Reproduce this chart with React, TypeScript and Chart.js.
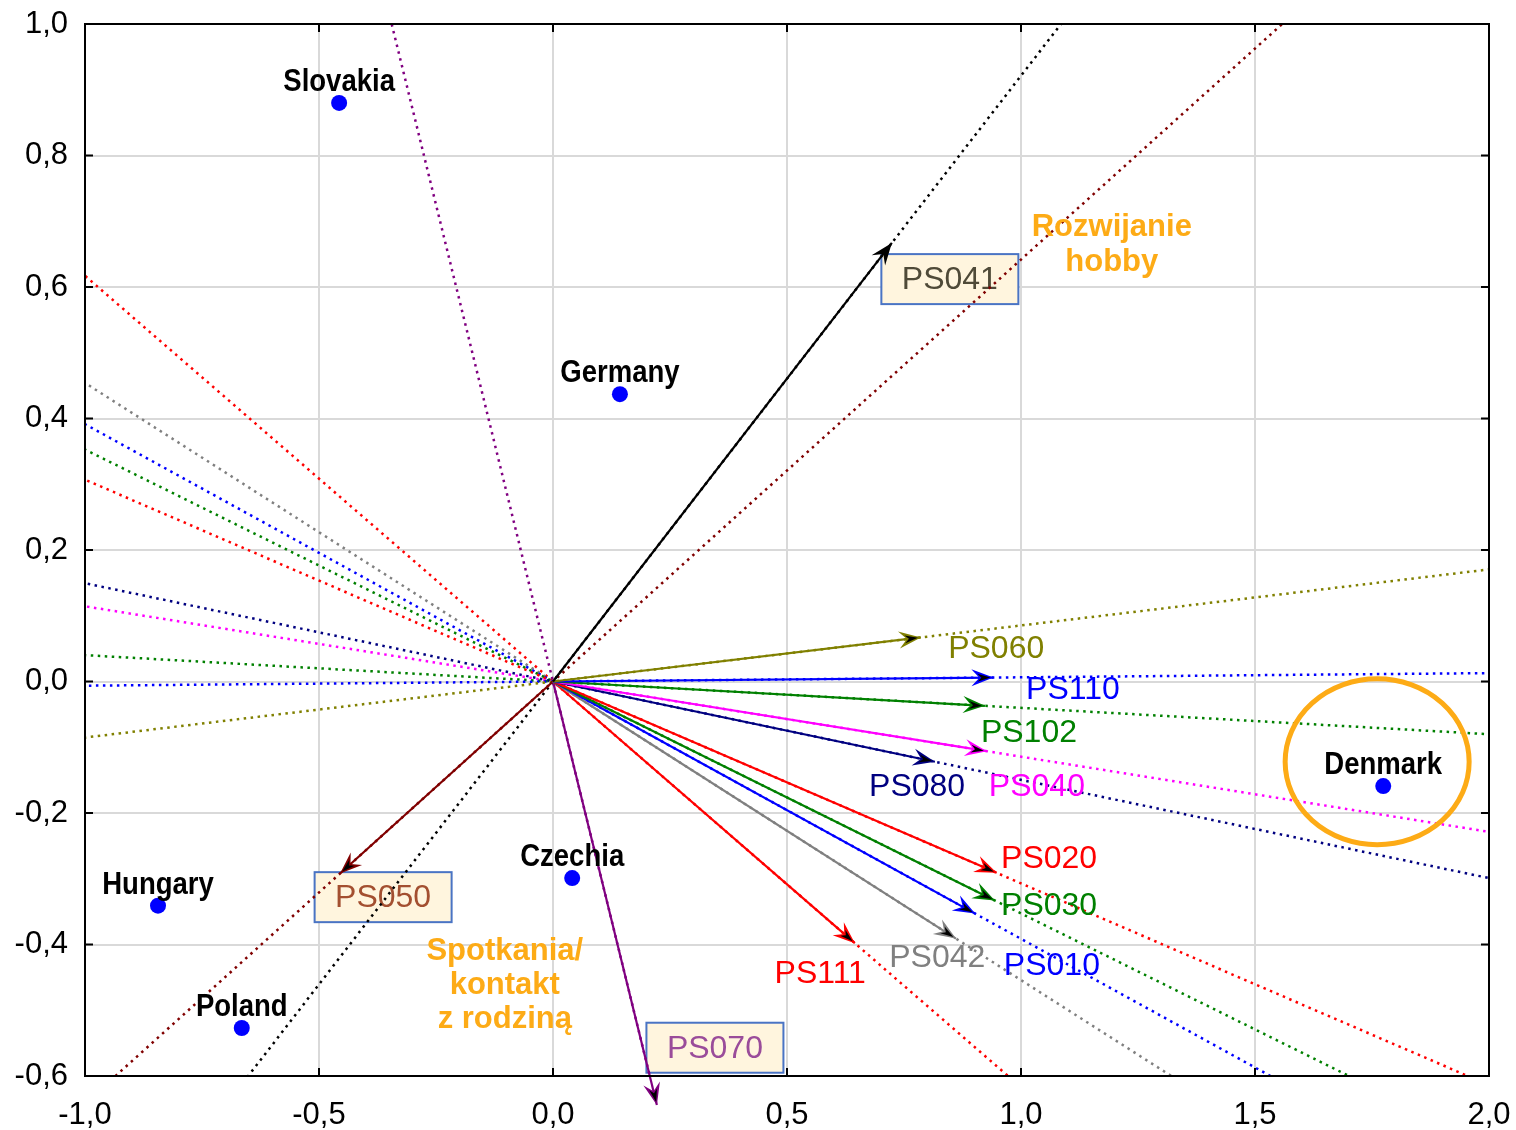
import React, { useEffect, useRef } from 'react';
import { Chart, registerables } from 'chart.js';

Chart.register(...registerables);

// ---- Data ----
const countryNames = ['Slovakia', 'Germany', 'Denmark', 'Czechia', 'Hungary', 'Poland'];
const countryX = [-0.457, 0.143, 1.774, 0.041, -0.844, -0.665];
const countryY = [0.880, 0.437, -0.159, -0.299, -0.341, -0.527];

const varNames = ['PS041', 'PS060', 'PS110', 'PS102', 'PS040', 'PS080', 'PS020', 'PS030', 'PS010', 'PS042', 'PS111', 'PS050', 'PS070'];
const varX = [0.724, 0.786, 0.941, 0.923, 0.927, 0.816, 0.948, 0.944, 0.902, 0.861, 0.645, -0.455, 0.222];
const varY = [0.667, 0.067, 0.006, -0.037, -0.106, -0.122, -0.291, -0.333, -0.353, -0.391, -0.398, -0.292, -0.644];

// label anchors (data units)
const labelX = [0.848, 0.947, 1.111, 1.017, 1.034, 0.778, 1.060, 1.060, 1.066, 0.821, 0.571, -0.363, 0.346];
const labelY = [0.612, 0.051, -0.011, -0.077, -0.159, -0.159, -0.268, -0.340, -0.431, -0.420, -0.443, -0.328, -0.557];

const xTickValues = [-1.0, -0.5, 0.0, 0.5, 1.0, 1.5, 2.0];
const yTickValues = [-0.6, -0.4, -0.2, 0.0, 0.2, 0.4, 0.6, 0.8, 1.0];

const noteHobby = ['Rozwijanie', 'hobby'];
const noteHobbyAt = { x: 1.194, y: 0.691 };
const noteFamily = ['Spotkania/', 'kontakt', 'z rodziną'];
const noteFamilyAt = { x: -0.103, y: -0.410 };
const circleAt = { x: 1.761, y: -0.122 };

// ---- Styles ----
const varColors = ['#000000', '#808000', '#0000ff', '#008000', '#ff00ff', '#000080', '#ff0000', '#008000', '#0000ff', '#808080', '#ff0000', '#800000', '#800080'];
const boxedLabels: Record<string, string> = { PS041: '#4f4a38', PS050: '#a34f30', PS070: '#9a4c9a' };
const ORANGE = '#fdab16';
const FONT = '"Liberation Sans", Arial, Helvetica, sans-serif';

const fmt = (v: number) => {
  if (Math.abs(v) < 1e-9) return '0,0';
  return v.toFixed(1).replace('.', ',');
};

const overlayPlugin = {
  id: 'overlay',
  beforeDatasetsDraw(chart: any) {
    const ctx = chart.ctx;
    const xs = chart.scales.x, ys = chart.scales.y;
    ctx.save();
    varNames.forEach((n, i) => {
      const col = boxedLabels[n];
      if (!col) return;
      const cx = xs.getPixelForValue(labelX[i]);
      const cy = ys.getPixelForValue(labelY[i]);
      const w = 137, h = 50;
      ctx.fillStyle = '#fff5de';
      ctx.fillRect(cx - w / 2, cy - h / 2, w, h);
      ctx.strokeStyle = '#4a74c4';
      ctx.lineWidth = 2;
      ctx.strokeRect(cx - w / 2, cy - h / 2, w, h);
      ctx.font = `32px ${FONT}`;
      ctx.fillStyle = col;
      ctx.textAlign = 'center';
      ctx.textBaseline = 'middle';
      ctx.fillText(n, cx, cy + 1);
    });
    ctx.restore();
  },
  afterDatasetsDraw(chart: any) {
    const ctx = chart.ctx;
    const xs = chart.scales.x, ys = chart.scales.y;
    ctx.save();
    // arrowheads
    const ox = xs.getPixelForValue(0), oy = ys.getPixelForValue(0);
    varNames.forEach((n, i) => {
      const tx = xs.getPixelForValue(varX[i]);
      const ty = ys.getPixelForValue(varY[i]);
      const a = Math.atan2(ty - oy, tx - ox);
      ctx.save();
      ctx.translate(tx, ty);
      ctx.rotate(a);
      ctx.beginPath();
      ctx.moveTo(0, 0);
      ctx.lineTo(-22, -8.5);
      ctx.lineTo(-14, 0);
      ctx.lineTo(-22, 8.5);
      ctx.closePath();
      ctx.fillStyle = varColors[i];
      ctx.fill();
      ctx.beginPath();
      ctx.moveTo(-3, 0);
      ctx.lineTo(-16, -4);
      ctx.lineTo(-12, 0);
      ctx.lineTo(-16, 4);
      ctx.closePath();
      ctx.fillStyle = '#000';
      ctx.fill();
      ctx.restore();
    });
    // variable labels (unboxed)
    ctx.font = `32px ${FONT}`;
    ctx.textAlign = 'center';
    ctx.textBaseline = 'middle';
    varNames.forEach((n, i) => {
      if (boxedLabels[n]) return;
      ctx.fillStyle = varColors[i];
      ctx.fillText(n, xs.getPixelForValue(labelX[i]), ys.getPixelForValue(labelY[i]) + 1);
    });
    // country labels
    ctx.font = `bold 32px ${FONT}`;
    ctx.fillStyle = '#000';
    countryNames.forEach((n, i) => {
      const px = xs.getPixelForValue(countryX[i]);
      const py = ys.getPixelForValue(countryY[i]);
      ctx.save();
      ctx.translate(px, py - 21);
      ctx.scale(0.86, 1);
      ctx.fillText(n, 0, 0);
      ctx.restore();
    });
    // orange notes
    ctx.font = `bold 31px ${FONT}`;
    ctx.fillStyle = ORANGE;
    const drawNote = (lines: string[], at: { x: number; y: number }, gap: number) => {
      const px = xs.getPixelForValue(at.x), py = ys.getPixelForValue(at.y);
      lines.forEach((l, k) => ctx.fillText(l, px, py + k * gap));
    };
    drawNote(noteHobby, noteHobbyAt, 35);
    drawNote(noteFamily, noteFamilyAt, 34);
    // circle around Denmark
    ctx.beginPath();
    ctx.ellipse(xs.getPixelForValue(circleAt.x), ys.getPixelForValue(circleAt.y), 92, 83, 0, 0, Math.PI * 2);
    ctx.strokeStyle = ORANGE;
    ctx.lineWidth = 5;
    ctx.stroke();
    ctx.restore();
  },
  afterDraw(chart: any) {
    const ctx = chart.ctx;
    const { left, right, top, bottom } = chart.chartArea;
    const xs = chart.scales.x, ys = chart.scales.y;
    ctx.save();
    ctx.strokeStyle = '#000';
    ctx.lineWidth = 2;
    ctx.strokeRect(left, top, right - left, bottom - top);
    ctx.beginPath();
    xTickValues.forEach((v) => {
      const x = xs.getPixelForValue(v);
      ctx.moveTo(x, top); ctx.lineTo(x, top + 8);
      ctx.moveTo(x, bottom); ctx.lineTo(x, bottom - 8);
    });
    yTickValues.forEach((v) => {
      const y = ys.getPixelForValue(v);
      ctx.moveTo(left, y); ctx.lineTo(left + 8, y);
      ctx.moveTo(right, y); ctx.lineTo(right - 8, y);
    });
    ctx.stroke();
    ctx.restore();
  },
};

const fixScale = (size: { w?: number; h?: number }) => (s: any) => {
  if (size.w !== undefined) s.width = size.w;
  if (size.h !== undefined) s.height = size.h;
  s.paddingTop = 0;
  s.paddingBottom = 0;
  s.paddingLeft = 0;
  s.paddingRight = 0;
};

export default function App() {
  const ref = useRef<HTMLCanvasElement>(null);
  useEffect(() => {
    document.body.style.margin = '0';
    const canvas = ref.current;
    if (!canvas) return;
    const K = 20;
    const datasets: any[] = [];
    datasets.push({
      label: 'countries',
      data: countryX.map((x, i) => ({ x, y: countryY[i] })),
      pointRadius: 8,
      pointBackgroundColor: '#0000ff',
      pointBorderWidth: 0,
      showLine: false,
    });
    varNames.forEach((n, i) => {
      datasets.push({
        label: n,
        data: [{ x: 0, y: 0 }, { x: varX[i], y: varY[i] }],
        showLine: true,
        borderColor: varColors[i],
        borderWidth: 2.2,
        pointRadius: 0,
        clip: false,
      });
    });
    varNames.forEach((n, i) => {
      datasets.push({
        label: n + ' axis',
        data: [{ x: -K * varX[i], y: -K * varY[i] }, { x: K * varX[i], y: K * varY[i] }],
        showLine: true,
        borderColor: varColors[i],
        borderWidth: 2.5,
        borderDash: [2.5, 4.5],
        pointRadius: 0,
      });
    });
    const tickFont = { family: FONT, size: 31 };
    const chart = new Chart(canvas, {
      type: 'scatter',
      data: { datasets },
      options: {
        responsive: false,
        animation: false,
        events: [],
        layout: { padding: { top: 24, right: 27, left: 0, bottom: 0 } },
        plugins: { legend: { display: false }, tooltip: { enabled: false } },
        scales: {
          x: {
            type: 'linear',
            min: -1,
            max: 2,
            ticks: { stepSize: 0.5, font: tickFont, color: '#000', padding: 21, callback: (v: any) => fmt(Number(v)) },
            grid: { color: '#d9d9d9', lineWidth: 2, drawTicks: false },
            border: { display: false },
            afterFit: fixScale({ h: 54 }),
          },
          y: {
            type: 'linear',
            min: -0.6,
            max: 1.0,
            ticks: { stepSize: 0.2, font: tickFont, color: '#000', padding: 17, callback: (v: any) => fmt(Number(v)) },
            grid: { color: '#d9d9d9', lineWidth: 2, drawTicks: false },
            border: { display: false },
            afterFit: fixScale({ w: 85 }),
          },
        },
      } as any,
      plugins: [overlayPlugin],
    });
    return () => chart.destroy();
  }, []);
  return <canvas ref={ref} width={1516} height={1130} style={{ display: 'block' }} />;
}
